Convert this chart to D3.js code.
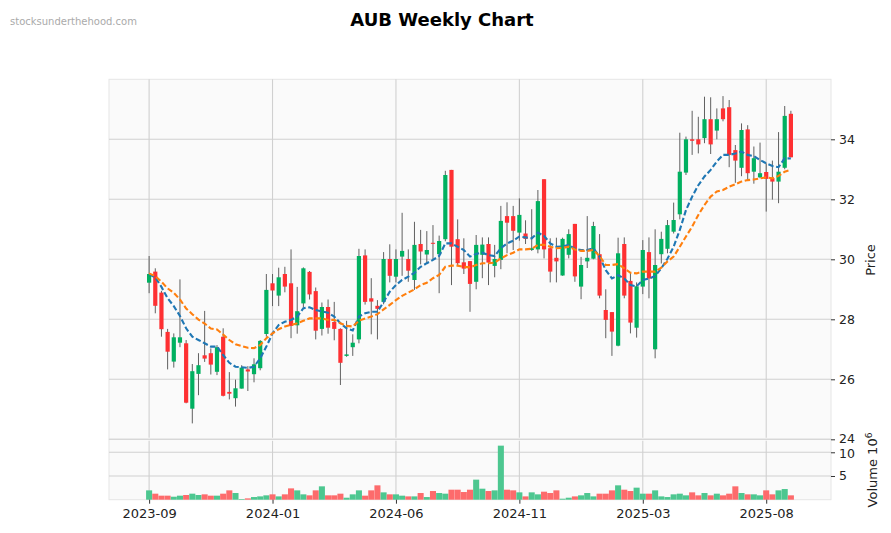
<!DOCTYPE html>
<html><head><meta charset="utf-8">
<script src="https://cdn.jsdelivr.net/npm/d3@7"></script>
<style>body{margin:0;background:#fff} text{font-family:"DejaVu Sans",sans-serif}</style>
</head><body><svg id="c" width="891" height="533"></svg>
<script>
const opens  =[29.22,29.59,28.89,27.58,26.59,27.22,27.20,25.02,26.18,26.80,26.87,26.25,27.42,25.58,25.37,25.69,26.33,26.17,26.37,27.51,29.20,28.79,29.51,29.20,27.80,28.53,29.58,28.94,27.68,28.41,27.91,27.68,26.78,27.07,27.33,30.13,28.70,28.45,28.58,30.01,29.42,30.09,30.01,29.31,30.51,30.16,30.55,30.17,30.67,32.98,30.67,29.90,29.94,29.25,30.15,30.51,29.78,29.98,31.44,31.44,30.89,30.86,30.31,30.33,32.67,30.37,30.05,29.46,30.15,31.18,29.09,29.93,30.02,30.17,28.31,28.24,27.12,30.51,29.28,27.72,29.09,30.24,27.00,30.17,30.35,30.92,31.50,32.89,34.00,34.00,34.04,34.67,34.29,35.03,35.07,33.64,33.05,34.33,32.92,32.73,32.91,32.70,32.59,33.05,34.85];
const highs  =[30.11,29.70,28.95,27.68,27.53,29.33,27.31,26.51,26.87,28.28,27.03,27.14,27.70,26.24,25.99,26.47,26.44,26.70,27.31,29.51,29.51,29.72,29.75,30.33,29.08,29.73,29.61,29.06,28.56,28.66,28.58,27.70,27.95,27.50,30.35,30.33,29.37,28.64,30.24,30.50,30.33,31.55,30.33,31.25,30.98,30.94,31.14,30.79,32.95,32.98,31.33,30.70,29.94,30.81,30.73,30.73,30.48,31.78,31.90,31.78,32.03,31.30,31.67,32.31,32.67,30.70,30.72,30.72,31.00,31.18,30.08,31.44,31.25,30.84,29.00,28.24,30.72,30.73,29.55,29.23,30.64,30.73,31.00,30.92,31.31,31.89,34.22,34.09,34.95,34.75,35.42,35.40,35.03,35.44,35.31,33.81,34.53,34.47,33.76,33.89,33.20,33.29,34.24,35.11,34.95];
const lows   =[28.87,28.20,27.42,26.33,26.39,27.07,25.20,24.53,25.47,26.58,26.16,26.14,25.43,25.33,25.09,25.69,25.61,25.90,26.30,27.42,28.44,28.44,28.90,27.37,27.52,28.40,28.66,27.33,27.46,27.52,27.30,25.81,26.75,26.78,27.20,28.49,27.50,27.33,28.50,29.23,29.23,29.45,29.25,28.98,29.83,29.86,29.97,28.87,30.60,29.14,29.80,29.51,28.25,29.00,29.37,29.14,29.40,29.67,30.20,30.31,30.62,30.51,30.28,30.20,30.03,29.23,29.23,29.45,30.03,29.25,28.67,29.71,30.00,28.70,27.37,26.78,27.10,28.70,27.53,27.39,28.84,28.70,26.70,29.86,30.20,30.86,31.33,32.81,33.48,33.53,33.87,33.51,34.00,34.60,33.07,32.55,32.77,32.65,32.52,32.70,31.59,31.99,31.87,33.00,33.40];
const closes =[29.51,28.45,27.67,26.92,27.40,27.40,25.22,26.27,26.47,26.69,26.49,27.07,25.45,25.52,25.70,26.39,26.26,26.50,27.28,28.98,28.96,29.40,29.09,27.78,28.27,29.70,28.83,27.62,28.41,27.72,27.68,26.55,26.83,27.22,30.11,28.58,28.59,28.35,30.01,29.45,30.01,30.28,29.62,30.48,30.26,30.31,30.53,30.61,32.81,30.42,29.87,29.69,29.18,30.48,30.49,29.89,30.01,31.28,31.22,30.95,31.48,30.68,30.37,31.94,30.33,29.59,29.93,30.68,30.84,29.43,29.81,30.05,31.11,28.79,27.98,27.59,30.20,28.79,27.89,29.10,30.31,29.36,29.81,30.68,31.14,31.31,32.92,34.00,33.95,33.83,34.67,33.83,34.67,34.67,33.48,33.29,34.31,32.87,33.37,32.87,32.68,32.59,32.92,34.78,33.40];
const volumes=[1.97,1.27,0.85,0.85,0.63,0.85,0.99,1.27,0.99,1.13,0.85,0.85,1.27,1.97,1.41,0.14,0.28,0.56,0.70,0.92,1.13,0.70,1.13,2.39,1.97,1.13,0.92,1.97,2.82,0.92,0.92,1.27,0.42,1.13,1.97,0.85,1.97,3.03,1.55,1.13,1.13,0.85,0.70,0.70,1.41,0.56,1.83,1.41,1.27,2.11,2.11,1.62,2.11,4.23,2.32,1.83,1.97,11.4,2.11,1.97,1.55,0.70,1.55,1.13,1.69,1.41,1.97,0.21,0.42,0.70,0.92,1.41,0.70,1.27,1.27,1.97,3.03,2.11,1.83,2.54,1.27,1.27,1.97,0.70,0.56,1.13,1.27,0.92,1.55,0.92,1.41,0.92,1.27,0.92,1.27,2.82,1.41,1.13,1.13,0.92,1.97,1.13,1.97,2.25,0.92];
const maShort=[29.50,29.40,29.08,28.70,28.44,28.11,27.70,27.42,27.31,27.20,27.09,27.09,26.81,26.55,26.42,26.40,26.38,26.42,26.70,27.09,27.53,27.81,27.92,27.98,28.09,28.37,28.40,28.31,28.26,28.22,28.09,27.87,27.70,27.63,28.09,28.20,28.25,28.25,28.58,28.92,29.14,29.31,29.42,29.55,29.75,29.87,29.98,30.11,30.53,30.53,30.42,30.31,30.09,30.18,30.22,30.14,30.11,30.37,30.53,30.62,30.76,30.73,30.70,30.89,30.78,30.53,30.42,30.43,30.48,30.35,30.31,30.31,30.37,30.09,29.64,29.36,29.47,29.36,29.14,29.10,29.31,29.36,29.44,29.70,30.02,30.42,30.98,31.64,32.09,32.47,32.76,32.98,33.26,33.48,33.48,33.53,33.59,33.48,33.44,33.31,33.20,33.11,33.07,33.37,33.36];
const maLong =[29.53,29.44,29.25,29.03,28.88,28.66,28.36,28.17,27.99,27.86,27.69,27.66,27.49,27.31,27.17,27.11,27.05,27.04,27.14,27.37,27.53,27.67,27.76,27.81,27.87,27.95,28.03,28.03,28.03,27.98,27.98,27.87,27.78,27.76,27.95,28.03,28.09,28.17,28.33,28.48,28.64,28.78,28.89,29.00,29.14,29.22,29.37,29.48,29.75,29.79,29.79,29.75,29.73,29.81,29.87,29.87,29.89,30.03,30.14,30.22,30.33,30.33,30.35,30.48,30.48,30.42,30.37,30.38,30.42,30.33,30.28,30.28,30.31,30.11,29.81,29.81,29.84,29.70,29.55,29.53,29.59,29.59,29.59,29.72,29.93,30.09,30.42,30.76,31.09,31.48,31.81,32.09,32.26,32.31,32.42,32.50,32.59,32.64,32.66,32.70,32.73,32.70,32.78,32.92,32.98];
const tickIdx=[0,20,40,60,80,100];
const tickLabels=["2023-09","2024-01","2024-06","2024-11","2025-03","2025-08"];
const priceTicks=[24,26,28,30,32,34];
const volTicks=[5,10];

const svg=d3.select("#c");
svg.append("rect").attr("width",891).attr("height",533).attr("fill","#fff");
const L=109,R=831,T=79.3,MB=439.3,VB=499.7;
const x=d3.scaleLinear().domain([-6.5,110.5]).range([L,R]);
const y=d3.scaleLinear().domain([24,36]).range([MB,T]);
const yv=d3.scaleLinear().domain([0,12.74]).range([VB,MB]);
const N=closes.length;
const data=d3.range(N).map(i=>({i,o:opens[i],h:highs[i],l:lows[i],c:closes[i],v:volumes[i]}));

svg.append("rect").attr("x",L).attr("y",T).attr("width",R-L).attr("height",MB-T).attr("fill","#fafafa").attr("stroke","#e6e6e6");
svg.append("rect").attr("x",L).attr("y",MB).attr("width",R-L).attr("height",VB-MB).attr("fill","#fafafa").attr("stroke","#e6e6e6");
const grid=svg.append("g").attr("stroke","#d0d0d0").attr("stroke-width",1.1);
priceTicks.forEach(p=>grid.append("line").attr("x1",L).attr("x2",R).attr("y1",y(p)).attr("y2",y(p)));
volTicks.forEach(p=>grid.append("line").attr("x1",L).attr("x2",R).attr("y1",yv(p)).attr("y2",yv(p)));
tickIdx.forEach(t=>{
  grid.append("line").attr("x1",x(t)).attr("x2",x(t)).attr("y1",T).attr("y2",MB-1.5);
  grid.append("line").attr("x1",x(t)).attr("x2",x(t)).attr("y1",MB+1.5).attr("y2",VB);
});

const step=x(1)-x(0);
svg.append("g").selectAll("rect").data(data).join("rect")
  .attr("x",d=>x(d.i)-step*0.49).attr("width",step*0.98)
  .attr("y",d=>yv(d.v)).attr("height",d=>VB-yv(d.v))
  .attr("fill",d=>d.c>=d.o?"#4dc790":"#fd6b6c");
svg.append("g").selectAll("line").data(data).join("line")
  .attr("x1",d=>x(d.i)).attr("x2",d=>x(d.i))
  .attr("y1",d=>y(d.h)).attr("y2",d=>y(d.l))
  .attr("stroke","#606060").attr("stroke-width",1);
const bw=step*0.68;
svg.append("g").selectAll("rect").data(data).join("rect")
  .attr("x",d=>x(d.i)-bw/2).attr("width",bw)
  .attr("y",d=>y(Math.max(d.o,d.c)))
  .attr("height",d=>Math.max(1,Math.abs(y(d.o)-y(d.c))))
  .attr("fill",d=>d.c>=d.o?"#00b060":"#fe3032");
const line=d3.line().x((d,i)=>x(i)).y(d=>y(d));
svg.append("path").datum(maShort).attr("d",line).attr("fill","none")
  .attr("stroke","#1f77b4").attr("stroke-width",2.1).attr("stroke-dasharray","5.5,2.6");
svg.append("path").datum(maLong).attr("d",line).attr("fill","none")
  .attr("stroke","#ff7f0e").attr("stroke-width",2.1).attr("stroke-dasharray","5.5,2.6");

function style(g){g.select(".domain").remove();g.selectAll("text").attr("font-size",12.5).attr("fill","#222").attr("font-family","DejaVu Sans");g.selectAll("line").attr("stroke","#333");}
const ga=svg.append("g").attr("transform",`translate(${R},0)`).call(d3.axisRight(y).tickValues(priceTicks).tickSize(4).tickPadding(4)).call(style);
ga.selectAll(".tick").filter(d=>d===24).select("text").attr("dy","0.22em");
const gv=svg.append("g").attr("transform",`translate(${R},0)`).call(d3.axisRight(yv).tickValues(volTicks).tickSize(4).tickPadding(4)).call(style);
gv.selectAll(".tick").filter(d=>d===10).select("text").attr("dy","0.42em");
svg.append("g").attr("transform",`translate(0,${VB})`).call(d3.axisBottom(x).tickValues(tickIdx).tickFormat((d,i)=>tickLabels[i]).tickSize(4).tickPadding(5)).call(g=>{style(g);g.selectAll("text").attr("font-size",13);});

svg.append("text").attr("transform","translate(875,260) rotate(-90)").attr("text-anchor","middle").attr("font-size",13).attr("fill","#222").text("Price");
const vl=svg.append("text").attr("transform","translate(877,470) rotate(-90)").attr("text-anchor","middle").attr("font-size",13).attr("fill","#222");
vl.append("tspan").text("Volume  10");
vl.append("tspan").attr("dy",-5).attr("font-size",9).text("6");

svg.append("text").attr("x",442).attr("y",26).attr("text-anchor","middle").attr("font-size",18).attr("font-weight","bold").attr("fill","#000").text("AUB Weekly Chart");
svg.append("text").attr("x",10).attr("y",25).attr("font-size",10).attr("fill","#aaa").text("stocksunderthehood.com");
</script></body></html>
